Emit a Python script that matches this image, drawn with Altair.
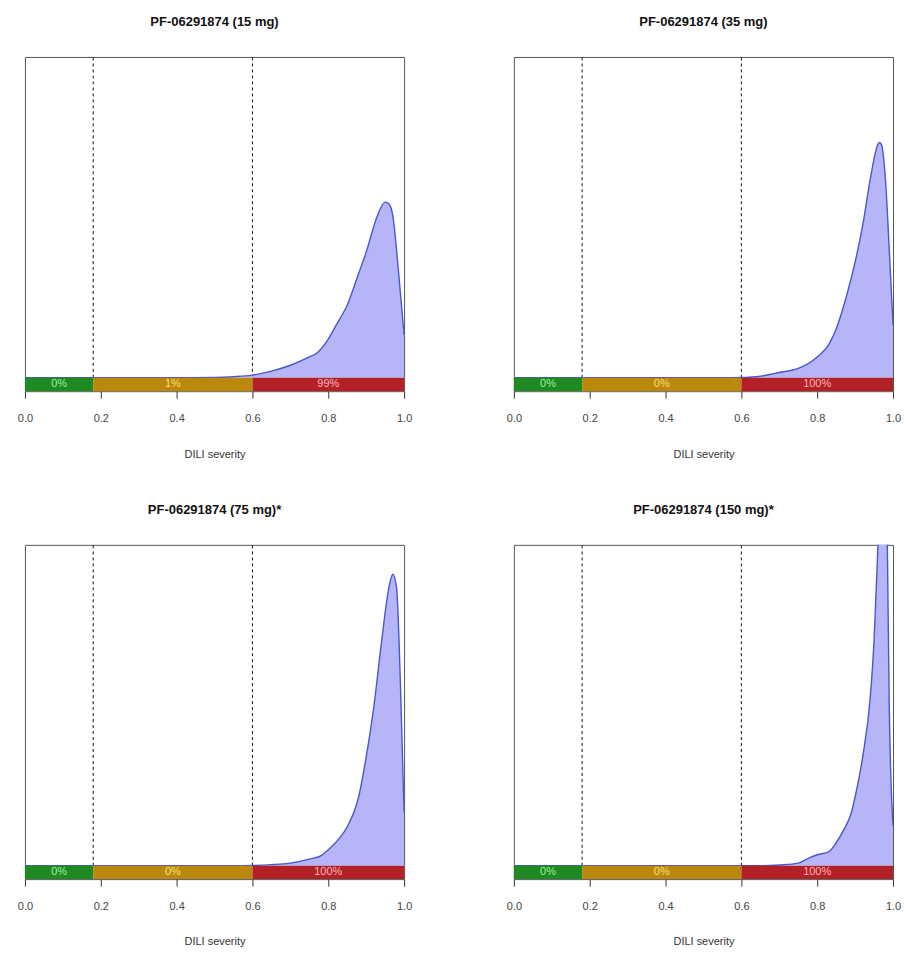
import altair as alt
import pandas as pd

titles = ["PF-06291874 (15 mg)", "PF-06291874 (35 mg)",
          "PF-06291874 (75 mg)*", "PF-06291874 (150 mg)*"]

zone_start = [0.0, 0.18, 0.6]
zone_end = [0.18, 0.6, 1.0]
zone_fill = ["#1f8a22", "#bb870d", "#b32025"]
zone_text = ["#9cf09c", "#f7e07a", "#ffb4bc"]
zone_pct = [["0%", "1%", "99%"],
            ["0%", "0%", "100%"],
            ["0%", "0%", "100%"],
            ["0%", "0%", "100%"]]
thresholds = [0.18, 0.6]
tick_values = [0.0, 0.2, 0.4, 0.6, 0.8, 1.0]

x_15 = [0.0, 0.4, 0.5, 0.55, 0.6, 0.65, 0.7, 0.75, 0.77, 0.8, 0.82, 0.85, 0.88, 0.9, 0.93, 0.95, 0.96, 0.97, 0.98, 0.99, 1.0]
d_15 = [0.0, 0.0, 0.01, 0.04, 0.1, 0.25, 0.47, 0.78, 0.93, 1.45, 1.95, 2.72, 3.9, 4.7, 6.08, 6.57, 6.5, 6.08, 4.81, 3.2, 1.6]

x_35 = [0.0, 0.55, 0.6, 0.65, 0.7, 0.75, 0.8, 0.83, 0.85, 0.88, 0.9, 0.92, 0.94, 0.96, 0.965, 0.97, 0.98, 0.99, 1.0]
d_35 = [0.0, 0.0, 0.01, 0.06, 0.2, 0.35, 0.78, 1.23, 1.83, 3.2, 4.33, 5.7, 7.43, 8.73, 8.8, 8.7, 7.43, 4.81, 1.98]

x_75 = [0.0, 0.55, 0.6, 0.65, 0.7, 0.75, 0.78, 0.8, 0.83, 0.85, 0.88, 0.9, 0.92, 0.94, 0.96, 0.97, 0.98, 0.99, 1.0]
d_75 = [0.0, 0.0, 0.01, 0.04, 0.1, 0.25, 0.37, 0.6, 1.04, 1.46, 2.57, 4.07, 5.93, 8.32, 10.41, 10.9, 10.41, 6.94, 1.98]

x_150 = [0.0, 0.65, 0.7, 0.75, 0.78, 0.8, 0.83, 0.85, 0.87, 0.89, 0.9, 0.92, 0.94, 0.95, 0.96, 0.97, 0.98, 0.985, 0.99, 1.0]
d_150 = [0.0, 0.0, 0.03, 0.1, 0.3, 0.41, 0.52, 0.86, 1.34, 1.98, 2.57, 4.07, 6.31, 8.43, 11.9, 15.0, 15.5, 12.0, 6.0, 1.5]

xs = [x_15, x_35, x_75, x_150]
ds = [d_15, d_35, d_75, d_150]

Y_MIN, Y_MAX = -0.5, 12.0
FONT = "Liberation Sans"


def xenc(field="x"):
    return alt.X(
        f"{field}:Q",
        scale=alt.Scale(domain=[0, 1], nice=False, zero=False),
        axis=alt.Axis(values=tick_values, format=".1f", title="DILI severity",
                      grid=False, domain=False, tickSize=7, tickColor="#333",
                      labelFlush=False, labelOverlap=False,
                      labelFontSize=11, labelColor="#444", labelPadding=14,
                      labelFont=FONT, titleFont=FONT,
                      titleFontSize=11, titleFontWeight="normal", titleColor="#333",
                      titlePadding=25),
    )


def yscale():
    return alt.Scale(domain=[Y_MIN, Y_MAX], nice=False, zero=False)


def panel(i):
    dens = pd.DataFrame({"x": xs[i], "d": ds[i], "base": [0.0] * len(xs[i])})
    zones = pd.DataFrame({
        "x": zone_start, "x2": zone_end,
        "mid": [(a + b) / 2 for a, b in zip(zone_start, zone_end)],
        "fill": zone_fill, "tcol": zone_text, "pct": zone_pct[i],
        "lo": [Y_MIN] * 3, "hi": [0.0] * 3, "ym": [Y_MIN / 2] * 3,
    })
    rules = pd.DataFrame({"x": thresholds, "lo": [0.0] * 2, "hi": [Y_MAX] * 2})

    area = alt.Chart(dens).mark_area(color="#b5b5f7", clip=True, interpolate="monotone").encode(
        x=xenc(), y=alt.Y("d:Q", scale=yscale(), axis=None), y2="base:Q")
    line = alt.Chart(dens).mark_line(color="#4757cf", strokeWidth=1.4, clip=True, interpolate="monotone").encode(
        x=xenc(), y=alt.Y("d:Q", scale=yscale(), axis=None))
    dash = alt.Chart(rules).mark_rule(color="#111", strokeWidth=1, strokeDash=[3, 3]).encode(
        x=xenc(), y=alt.Y("lo:Q", scale=yscale(), axis=None), y2="hi:Q")
    bar = alt.Chart(zones).mark_rect().encode(
        x=xenc(), x2="x2:Q", y=alt.Y("lo:Q", scale=yscale(), axis=None), y2="hi:Q",
        color=alt.Color("fill:N", scale=None))
    txt = alt.Chart(zones).mark_text(fontSize=11, font=FONT, baseline="middle").encode(
        x=xenc("mid"), y=alt.Y("ym:Q", scale=yscale(), axis=None), text="pct:N",
        color=alt.Color("tcol:N", scale=None))

    return alt.layer(dash, area, line, bar, txt).properties(
        width=380, height=335,
        title=alt.TitleParams(titles[i], fontSize=13, fontWeight="bold", font=FONT,
                              color="#111", offset=27),
    )


row1 = alt.hconcat(panel(0), panel(1), spacing=92)
row2 = alt.hconcat(panel(2), panel(3), spacing=92)
chart = alt.vconcat(row1, row2, spacing=44).properties(
    padding={"left": 16, "top": 15, "right": 5, "bottom": 5},
    background="white",
).configure_view(stroke="#555", strokeWidth=1)

chart.save("out.html", embed_options={"renderer": "svg", "actions": False})
